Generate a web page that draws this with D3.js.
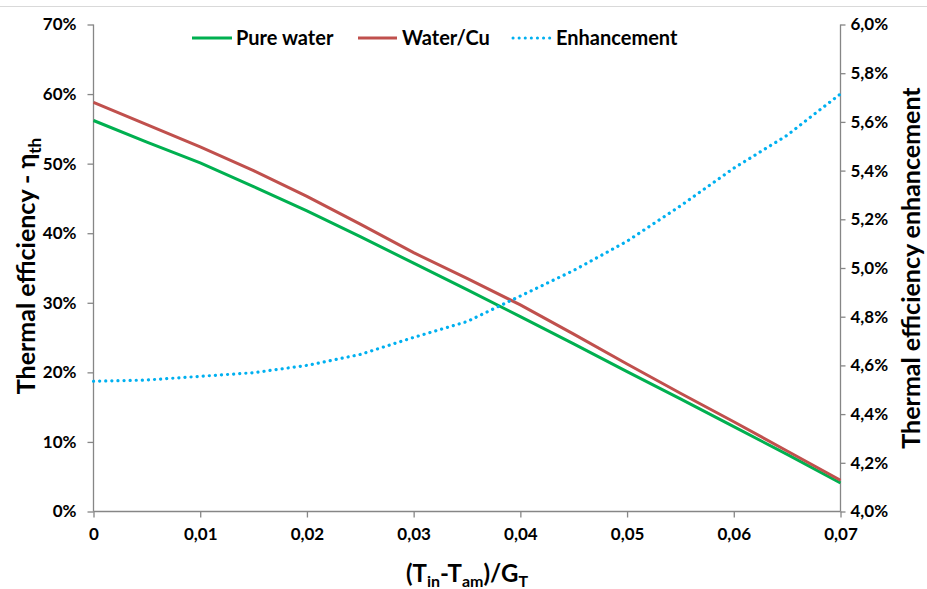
<!DOCTYPE html>
<html><head><meta charset="utf-8">
<script src="https://cdn.jsdelivr.net/npm/d3@7"></script>
<style>body{margin:0;background:#fff}svg{display:block}text{font-family:Lato,"Open Sans",sans-serif;font-weight:bold;fill:#000}</style>
</head><body>
<script>
const xValues = [0,0.005,0.01,0.015,0.02,0.025,0.03,0.035,0.04,0.045,0.05,0.055,0.06,0.065,0.07];
const pureWater = [56.2,53.1,50.1,46.7,43.2,39.5,35.7,31.9,28.0,24.1,20.1,16.2,12.2,8.2,4.1];
const waterCu   = [58.8,55.6,52.4,49.0,45.3,41.3,37.2,33.5,29.7,25.5,21.2,17.0,12.9,8.7,4.5];
const enhancement = [4.535,4.54,4.555,4.57,4.60,4.645,4.715,4.78,4.885,4.99,5.11,5.255,5.41,5.545,5.715];
const xTicks = [0,0.01,0.02,0.03,0.04,0.05,0.06,0.07];
const leftTicks = [0,10,20,30,40,50,60,70];
const rightTicks = [4.0,4.2,4.4,4.6,4.8,5.0,5.2,5.4,5.6,5.8,6.0];
const seriesNames = ["Pure water","Water/Cu","Enhancement"];

const W=927,H=589;
const svg=d3.select("body").append("svg").attr("width",W).attr("height",H);
const x=d3.scaleLinear().domain([0,0.07]).range([93.5,840.5]);
const yL=d3.scaleLinear().domain([0,70]).range([511.5,24.5]);
const yR=d3.scaleLinear().domain([4,6]).range([511.5,24.5]);
const axisCol="#868686";

svg.append("line").attr("x1",0).attr("x2",W).attr("y1",6.5).attr("y2",6.5).attr("stroke","#d9d9d9").attr("stroke-width",1);

const fmtComma=(v,d)=>v.toFixed(d).replace(".",",");

const gx=svg.append("g").attr("transform","translate(0,511.5)")
  .call(d3.axisBottom(x).tickValues(xTicks).tickSize(6).tickPadding(10).tickFormat(d=>d===0?"0":fmtComma(d,2)));
const gl=svg.append("g").attr("transform","translate(93.5,0)")
  .call(d3.axisLeft(yL).tickValues(leftTicks).tickSize(6).tickPadding(11).tickFormat(d=>d+"%"));
const gr=svg.append("g").attr("transform","translate(840.5,0)")
  .call(d3.axisRight(yR).tickValues(rightTicks).tickSize(5).tickPadding(5).tickFormat(d=>fmtComma(d,1)+"%"));
[gx,gl,gr].forEach(g=>{
  g.selectAll("path,line").attr("stroke",axisCol).attr("stroke-width",1.3);
  g.select(".domain").attr("d",null);
  g.selectAll("text").style("font-family","Lato,sans-serif").style("font-weight","bold").style("font-size","17px").attr("fill","#000");
});
svg.append("line").attr("x1",93.5).attr("x2",840.5).attr("y1",511.5).attr("y2",511.5).attr("stroke",axisCol).attr("stroke-width",1.3);
svg.append("line").attr("x1",93.5).attr("x2",93.5).attr("y1",24.5).attr("y2",511.5).attr("stroke",axisCol).attr("stroke-width",1.3);
svg.append("line").attr("x1",840.5).attr("x2",840.5).attr("y1",24.5).attr("y2",511.5).attr("stroke",axisCol).attr("stroke-width",1.3);

const lineL=d3.line().x((d,i)=>x(xValues[i])).y(d=>yL(d));
const lineR=d3.line().x((d,i)=>x(xValues[i])).y(d=>yR(d));
svg.append("path").attr("d",lineL(pureWater)).attr("fill","none").attr("stroke","#00b050").attr("stroke-width",3);
svg.append("path").attr("d",lineL(waterCu)).attr("fill","none").attr("stroke","#c0504d").attr("stroke-width",3);
svg.append("path").attr("d",lineR(enhancement)).attr("fill","none").attr("stroke","#00b0f0").attr("stroke-width",3.2)
  .attr("stroke-dasharray","0.1,6").attr("stroke-linecap","round");

const leg=[{x1:192,x2:232,tx:236,c:"#00b050",dash:null},{x1:358,x2:397,tx:402,c:"#c0504d",dash:null},{x1:513,x2:550,tx:556,c:"#00b0f0",dash:"0.1,6"}];
leg.forEach((l,i)=>{
  const ln=svg.append("line").attr("x1",l.x1).attr("x2",l.x2).attr("y1",38).attr("y2",38).attr("stroke",l.c).attr("stroke-width",3);
  if(l.dash) ln.attr("stroke-dasharray",l.dash).attr("stroke-linecap","round");
  svg.append("text").attr("x",l.tx).attr("y",45).style("font-size","20px").text(seriesNames[i]);
});

const lt=svg.append("text").attr("transform","translate(35,266) rotate(-90)").attr("text-anchor","middle").style("font-size","25px");
lt.append("tspan").text("Thermal efficiency - η");
lt.append("tspan").attr("dy",6).style("font-size","17px").text("th");

svg.append("text").attr("transform","translate(920,268) rotate(-90)").attr("text-anchor","middle").style("font-size","25px")
  .text("Thermal efficiency enhancement");

const xt=svg.append("text").attr("x",467).attr("y",582).attr("text-anchor","middle").style("font-size","24px");
xt.append("tspan").text("(T");
xt.append("tspan").attr("dy",5).style("font-size","16px").text("in");
xt.append("tspan").attr("dy",-5).text("-T");
xt.append("tspan").attr("dy",5).style("font-size","16px").text("am");
xt.append("tspan").attr("dy",-5).text(")/G");
xt.append("tspan").attr("dy",5).style("font-size","16px").text("T");
</script>
</body></html>
